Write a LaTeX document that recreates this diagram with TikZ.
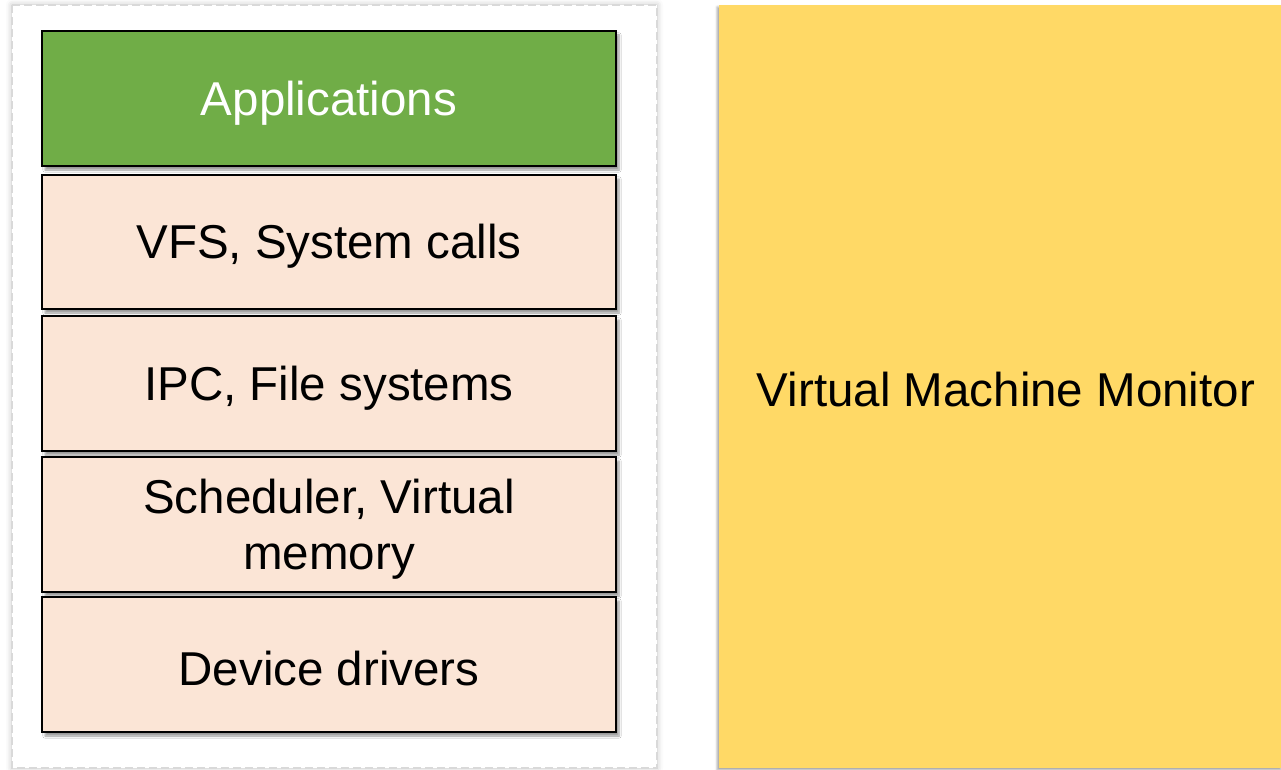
\documentclass[tikz,border=0pt]{standalone}
\usepackage{fontspec}
\setmainfont{Liberation Sans}
\usetikzlibrary{shadows,shadows.blur}
\definecolor{appgreen}{HTML}{70AD47}
\definecolor{layerpink}{HTML}{FBE5D6}
\definecolor{vmmyellow}{HTML}{FFD966}
\definecolor{frameline}{HTML}{D9D9D9}
\tikzset{
  layer/.style={draw=black, line width=2pt, fill=layerpink,
    blur shadow={shadow xshift=3pt, shadow yshift=-4pt, shadow blur steps=6, shadow opacity=40}},
  label/.style={font=\fontsize{47.5}{56}\selectfont, align=center, text=black},
}
\begin{document}
\begin{tikzpicture}[x=1pt, y=-1pt]
  \useasboundingbox (0,0) rectangle (1281,770);
  % guest kernel container
  \path[fill=white, draw=frameline, line width=2pt, dash pattern=on 8pt off 4pt,
        blur shadow={shadow xshift=0pt, shadow yshift=0pt, shadow blur radius=6pt, shadow opacity=25}]
        (12,5) rectangle (657,768);
  % layer stack
  \path[layer, fill=appgreen] (42,31) rectangle (616,166);
  \node[label] (apps) at (329,103) {\textcolor{white}{Applications}};
  \path[layer] (42,175) rectangle (616,309);
  \node[label] (vfs) at (329,246) {VFS, System calls};
  \path[layer] (42,316) rectangle (616,451);
  \node[label] (ipc) at (329,388) {IPC, File systems};
  \path[layer] (42,457) rectangle (616,592);
  \node[label] (sched) at (329,529) {Scheduler, Virtual\\memory};
  \path[layer] (42,597) rectangle (616,732);
  \node[label] (drv) at (329,669) {Device drivers};
  % hypervisor block
  \path[fill=vmmyellow,
        blur shadow={shadow xshift=-2pt, shadow yshift=-2pt, shadow blur steps=4, shadow opacity=35}]
        (719,5) rectangle (1283,768);
  \node[label] (vmm) at (1006,390) {Virtual Machine Monitor};
\end{tikzpicture}
\end{document}
